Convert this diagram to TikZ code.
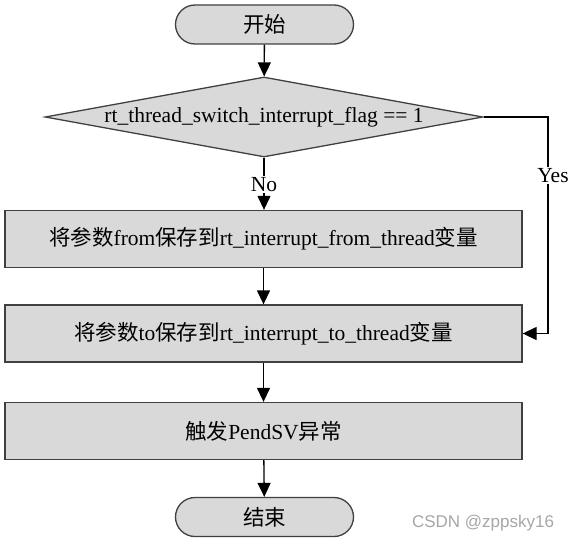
\documentclass[tikz,border=0pt]{standalone}
\usepackage{fontspec}
\setmainfont{Liberation Serif}
\newfontfamily\cjk{Noto Sans CJK SC}
\newfontfamily\wmfont{Liberation Sans}
\usetikzlibrary{shapes.geometric,shapes.misc,arrows.meta}
\definecolor{boxfill}{HTML}{D9D9D9}
\definecolor{boxline}{HTML}{404040}
\definecolor{wmgray}{HTML}{A6A6A6}
\tikzset{
  base/.style={draw=boxline, fill=boxfill, line width=1.3pt, font=\fontsize{21.5}{24}\selectfont, inner sep=0pt},
  term/.style={base, rounded rectangle, minimum width=178pt, minimum height=39pt},
  proc/.style={base, rectangle, minimum width=517pt, minimum height=57pt},
  decis/.style={base, diamond, aspect=5.4, minimum width=438pt, minimum height=80pt},
  arr/.style={draw=black, line width=1.3pt, -{Triangle[width=13pt,length=14pt]}},
  lbl/.style={fill=white, inner sep=1.5pt, font=\fontsize{21.5}{24}\selectfont}
}
\begin{document}
\begin{tikzpicture}[x=1pt,y=-1pt]
\useasboundingbox (0,0) rectangle (573,543);
\node[term] (start) at (264.5,24.5) {\cjk 开始};
\node[decis] (dec) at (264,117) {rt\_thread\_switch\_interrupt\_flag == 1};
\node[proc] (b1) at (263.5,239) {{\cjk 将参数}from{\cjk 保存到}rt\_interrupt\_from\_thread{\cjk 变量}};
\node[proc] (b2) at (263.5,333.5) {{\cjk 将参数}to{\cjk 保存到}rt\_interrupt\_to\_thread{\cjk 变量}};
\node[proc] (b3) at (263.5,431) {{\cjk 触发}PendSV{\cjk 异常}};
\node[term] (end) at (264.5,517) {\cjk 结束};
\coordinate (yc) at (548,117);
\coordinate (yc2) at (548,333.5);
\draw[arr] (start) -- (dec);
\draw[arr] (dec.south) -- node[lbl, pos=0.52] {No} (b1.north -| dec.south);
\draw[arr] (b1) -- (b2);
\draw[arr] (b2) -- (b3);
\draw[arr] (b3) -- (end);
\draw[arr] (dec.east) -- (yc) -- node[lbl, pos=0.27, xshift=5pt] {Yes} (yc2) -- (b2.east);
\node[text=wmgray, font=\wmfont\fontsize{17}{20}\selectfont, anchor=center] (wm) at (483,523) {CSDN @zppsky16};
\end{tikzpicture}
\end{document}
